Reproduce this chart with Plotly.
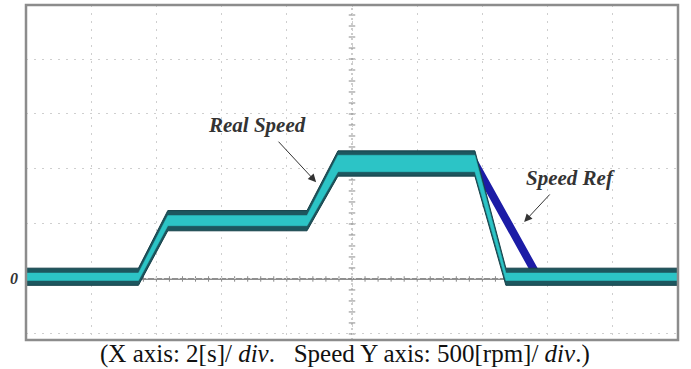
import plotly.graph_objects as go

# ---- data ----
time_s = [0, 3.45, 4.35, 8.62, 9.57, 13.77, 14.72, 20]          # Real Speed time [s]
real_speed = [20, 20, 530, 530, 1050, 1050, 20, 20]              # Real Speed [rpm]
ref_time_s = [0, 3.45, 4.35, 8.62, 9.57, 13.77, 15.7, 20]        # Speed Ref time [s]
ref_speed = [20, 20, 530, 530, 1050, 1050, 20, 20]               # Speed Ref [rpm]

# ---- style (noise band half-thickness, rpm) ----
band_half = [78, 78, 92, 92, 115, 115, 78, 78]
core_half = [34, 34, 46, 46, 75, 75, 34, 34]

X_RANGE = [0, 20]
Y_RANGE = [-555, 2491]

fig = go.Figure()

# Speed reference (dark blue)
fig.add_trace(go.Scatter(x=ref_time_s, y=ref_speed, mode="lines",
                         line=dict(color="#1c1ca6", width=8),
                         hoverinfo="skip", showlegend=False))

def band(xs, ys, hs):
    up = [y + h for y, h in zip(ys, hs)]
    dn = [y - h for y, h in zip(ys, hs)]
    return xs + xs[::-1], up + dn[::-1]

bx, by = band(time_s, real_speed, band_half)
fig.add_trace(go.Scatter(x=bx, y=by, mode="lines", fill="toself",
                         fillcolor="#1d565e", line=dict(color="#16424a", width=1),
                         hoverinfo="skip", showlegend=False))
cx, cy = band(time_s, real_speed, core_half)
fig.add_trace(go.Scatter(x=cx, y=cy, mode="lines", fill="toself",
                         fillcolor="#2cc4c6", line=dict(color="#2cc4c6", width=0.5),
                         hoverinfo="skip", showlegend=False))

shapes = []
# zero line with ticks
shapes.append(dict(type="line", xref="x", yref="y", x0=X_RANGE[0], x1=X_RANGE[1], y0=0, y1=0,
                   line=dict(color="#6a6a6a", width=1.5), layer="below"))
k = 0
while k * 0.4 <= 20.001:
    t = k * 0.4
    shapes.append(dict(type="line", xref="x", yref="y", x0=t, x1=t, y0=-25, y1=25,
                       line=dict(color="#8a8a8a", width=1), layer="below"))
    k += 1
# centre vertical line with ticks
shapes.append(dict(type="line", xref="x", yref="y", x0=10, x1=10, y0=Y_RANGE[0], y1=Y_RANGE[1],
                   line=dict(color="#9a9a9a", width=1, dash="2px,3px"), layer="below"))
r = -500
while r <= 2400:
    shapes.append(dict(type="line", xref="x", yref="y", x0=9.9, x1=10.1, y0=r, y1=r,
                       line=dict(color="#8a8a8a", width=1), layer="below"))
    r += 100
# frame
shapes.append(dict(type="rect", xref="paper", yref="paper", x0=0, x1=1, y0=0, y1=1,
                   line=dict(color="#8c8c8c", width=2.5), layer="above"))

fig.update_layout(
    width=691, height=369,
    margin=dict(l=26, r=13, t=5, b=29),
    paper_bgcolor="white", plot_bgcolor="white",
    shapes=shapes,
    xaxis=dict(range=X_RANGE, dtick=2, tick0=0, showgrid=True, gridcolor="#cfcfcf",
               griddash="2px,6px", gridwidth=1, showticklabels=False, ticks="",
               zeroline=False, showline=False, fixedrange=True),
    yaxis=dict(range=Y_RANGE, dtick=500, tick0=0, showgrid=True, gridcolor="#cfcfcf",
               griddash="2px,6px", gridwidth=1, showticklabels=False, ticks="",
               zeroline=False, showline=False, fixedrange=True),
)

serif = "Liberation Serif, Times New Roman, serif"
fig.add_annotation(x=7.1, y=1400, xref="x", yref="y", text="<b><i>Real Speed</i></b>",
                   showarrow=False, font=dict(family=serif, size=21, color="#333333"))
fig.add_annotation(x=8.9, y=880, xref="x", yref="y", text="", showarrow=True,
                   ax=-39, ay=-42, arrowhead=2, arrowsize=1.6, arrowwidth=1,
                   arrowcolor="#333333")
fig.add_annotation(x=16.7, y=920, xref="x", yref="y", text="<b><i>Speed Ref</i></b>",
                   showarrow=False, font=dict(family=serif, size=21, color="#333333"))
fig.add_annotation(x=15.28, y=518, xref="x", yref="y", text="", showarrow=True,
                   ax=27, ay=-29, arrowhead=2, arrowsize=1.6, arrowwidth=1,
                   arrowcolor="#333333")
fig.add_annotation(x=-18 / 652, y=0, xref="paper", yref="y", text="<b><i>0</i></b>",
                   showarrow=False, font=dict(family=serif, size=16, color="#333333"))
fig.add_annotation(x=0.49, y=-0.0866, xref="paper", yref="paper", yanchor="bottom",
                   text="(X axis: 2[s]/ <i>div</i>.   Speed Y axis: 500[rpm]/ <i>div</i>.)",
                   showarrow=False, borderpad=0,
                   font=dict(family=serif, size=25, color="#111111"))

fig.write_html("out.html")
